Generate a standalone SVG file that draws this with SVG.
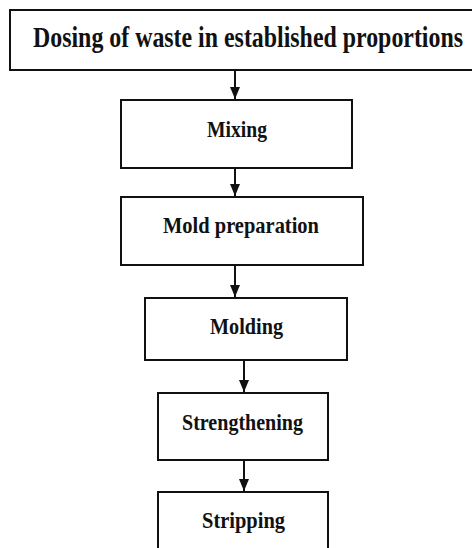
<svg xmlns="http://www.w3.org/2000/svg" width="472" height="548" viewBox="0 0 472 548">
<style>
.box{fill:#fff;stroke:#111;stroke-width:2}
.t{font-family:"Liberation Serif","Times New Roman",serif;font-weight:bold;fill:#111;text-anchor:middle}
.c{stroke:#111;stroke-width:2;fill:none}
</style>
<defs>
<marker id="ah" markerWidth="12" markerHeight="10" refX="12" refY="5" orient="auto" markerUnits="userSpaceOnUse" viewBox="0 0 12 10">
<path d="M0,0 L12,5 L0,10 Z" fill="#111"/>
</marker>
</defs>
<rect width="472" height="548" fill="#fff"/>
<g id="connectors">
<line class="c" x1="235" y1="70" x2="235" y2="99" marker-end="url(#ah)"/>
<line class="c" x1="235" y1="168" x2="235" y2="196" marker-end="url(#ah)"/>
<line class="c" x1="235" y1="265" x2="235" y2="297" marker-end="url(#ah)"/>
<line class="c" x1="244" y1="360" x2="244" y2="392" marker-end="url(#ah)"/>
<line class="c" x1="244" y1="460" x2="244" y2="491" marker-end="url(#ah)"/>
</g>
<g id="n1">
<rect class="box" x="10" y="10" width="470" height="60"/>
<text class="t" x="248" y="47" font-size="29" textLength="430" lengthAdjust="spacingAndGlyphs">Dosing of waste in established proportions</text>
</g>
<g id="n2">
<rect class="box" x="121" y="100" width="231" height="68"/>
<text class="t" x="237" y="137" font-size="23" textLength="60" lengthAdjust="spacingAndGlyphs">Mixing</text>
</g>
<g id="n3">
<rect class="box" x="121" y="197" width="242" height="68"/>
<text class="t" x="241" y="233" font-size="23" textLength="156" lengthAdjust="spacingAndGlyphs">Mold preparation</text>
</g>
<g id="n4">
<rect class="box" x="145" y="298" width="202" height="62"/>
<text class="t" x="246.500" y="334" font-size="23" textLength="73" lengthAdjust="spacingAndGlyphs">Molding</text>
</g>
<g id="n5">
<rect class="box" x="158" y="393" width="170" height="67"/>
<text class="t" x="242.500" y="430" font-size="23" textLength="121" lengthAdjust="spacingAndGlyphs">Strengthening</text>
</g>
<g id="n6">
<rect class="box" x="158" y="492" width="170" height="70"/>
<text class="t" x="243.500" y="528" font-size="23" textLength="83" lengthAdjust="spacingAndGlyphs">Stripping</text>
</g>
</svg>
